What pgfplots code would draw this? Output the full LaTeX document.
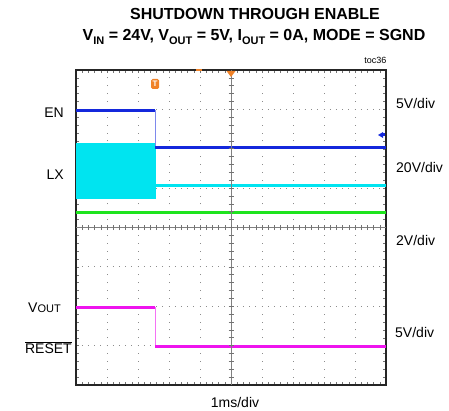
\documentclass[border=0pt]{standalone}
\usepackage{fontspec}
\setmainfont{Liberation Sans}
\usepackage{pgfplots}
\pgfplotsset{compat=1.18}
\definecolor{enblue}{RGB}{20,40,220}
\definecolor{lxcyan}{RGB}{0,228,240}
\definecolor{vgreen}{RGB}{30,228,30}
\definecolor{vmag}{RGB}{238,20,238}
\definecolor{trig}{RGB}{240,130,40}
\newcommand{\sub}[1]{\raisebox{-0.28em}{\fontsize{11}{11}\selectfont #1}}
\begin{document}
\begin{tikzpicture}[x=1pt,y=1pt]
\useasboundingbox (0,0) rectangle (449,410);
\begin{axis}[at={(76pt,25pt)}, anchor=south west, scale only axis,
  width=310pt, height=315pt,
  xmin=-5, xmax=5, ymin=-4, ymax=4,
  xtick={-5,...,5}, ytick={-4,...,4},
  xticklabels={}, yticklabels={},
  minor x tick num=4, minor y tick num=4,
  tick align=inside, major tick length=3pt, minor tick length=3pt,
  tick style={black!55, line width=0.5pt},
  grid=major,
  x grid style={black!45, line width=0.9pt, dash pattern=on 0.9pt off 6.975pt, dash phase=0.45pt},
  y grid style={black!45, line width=0.9pt, dash pattern=on 0.9pt off 5.3pt, dash phase=0.45pt},
  axis line style={black!85, line width=1.4pt},
]
% LX band (switching) and level after shutdown
\addplot[fill=lxcyan, draw=lxcyan, line width=0.5pt] coordinates {(-5,0.75) (-2.45,0.75) (-2.45,2.14) (-5,2.14)} -- cycle;
\addplot[lxcyan, line width=3pt] coordinates {(-2.45,1.06) (5,1.06)};
% EN
\addplot[enblue!55, line width=0.8pt] coordinates {(-2.45,2.98) (-2.45,2.02)};
\addplot[enblue, line width=3pt] coordinates {(-5,2.98) (-2.45,2.98)};
\addplot[enblue, line width=3pt] coordinates {(-2.45,2.02) (5,2.02)};
% VOUT (green)
\addplot[vgreen, line width=3pt] coordinates {(-5,0.39) (5,0.39)};
% RESET (magenta)
\addplot[vmag!60, line width=0.8pt] coordinates {(-2.45,-2.03) (-2.45,-3.02)};
\addplot[vmag, line width=3pt] coordinates {(-5,-2.03) (-2.45,-2.03)};
\addplot[vmag, line width=3pt] coordinates {(-2.45,-3.02) (5,-3.02)};
\end{axis}
% centre crosshair with fine ticks
\draw[black!50, line width=0.8pt] (231,25) -- (231,340);
\draw[black!50, line width=0.8pt] (76,182.5) -- (386,182.5);
\foreach \i in {-19,...,19} {\draw[black!55, line width=0.6pt] (231-2.5,182.5+\i*7.875) -- (231+2.5,182.5+\i*7.875);}
\foreach \i in {-24,...,24} {\draw[black!55, line width=0.6pt] (231+\i*6.2,182.5-2.5) -- (231+\i*6.2,182.5+2.5);}
% markers
\fill[trig] (226.5,339) -- (235.5,339) -- (231,333) -- cycle;
\fill[trig] (196,339) rectangle (202,341);
\node[fill=trig, rounded corners=1.5pt, inner sep=1pt, text=white, font=\bfseries\fontsize{8}{8}\selectfont, minimum width=8pt, minimum height=10pt] at (155,326) {T};
\fill[enblue] (378,275) -- (383,278) -- (383,272) -- cycle;
\fill[enblue] (382,273.5) rectangle (385,276.5);
% titles
\node[font=\bfseries\fontsize{16}{16}\selectfont] at (255,396) {SHUTDOWN THROUGH ENABLE};
\node[font=\bfseries\fontsize{16}{16}\selectfont] at (254,373) {V\sub{IN} = 24V, V\sub{OUT} = 5V, I\sub{OUT} = 0A, MODE = SGND};
\node[font=\fontsize{9}{9}\selectfont, anchor=east] at (390,350) {toc36};
% left labels
\node[font=\fontsize{14}{14}\selectfont, anchor=east, inner sep=0pt] at (64,297) {EN};
\node[font=\fontsize{14}{14}\selectfont, anchor=east, inner sep=0pt] at (64,235) {LX};
\node[font=\fontsize{14}{14}\selectfont, anchor=east, inner sep=0pt] at (61,102) {V{\fontsize{11}{11}\selectfont OUT}};
\node[font=\fontsize{14}{14}\selectfont, anchor=east, inner sep=0pt] at (72,62) {$\overline{\mbox{RESET}}$};
% right labels
\node[font=\fontsize{14}{14}\selectfont, anchor=west, inner sep=0pt] at (396,307) {5V/div};
\node[font=\fontsize{14}{14}\selectfont, anchor=west, inner sep=0pt] at (396,243) {20V/div};
\node[font=\fontsize{14}{14}\selectfont, anchor=west, inner sep=0pt] at (396,170) {2V/div};
\node[font=\fontsize{14}{14}\selectfont, anchor=west, inner sep=0pt] at (395,78) {5V/div};
\node[font=\fontsize{14}{14}\selectfont, inner sep=0pt] at (235,8) {1ms/div};
\end{tikzpicture}
\end{document}
